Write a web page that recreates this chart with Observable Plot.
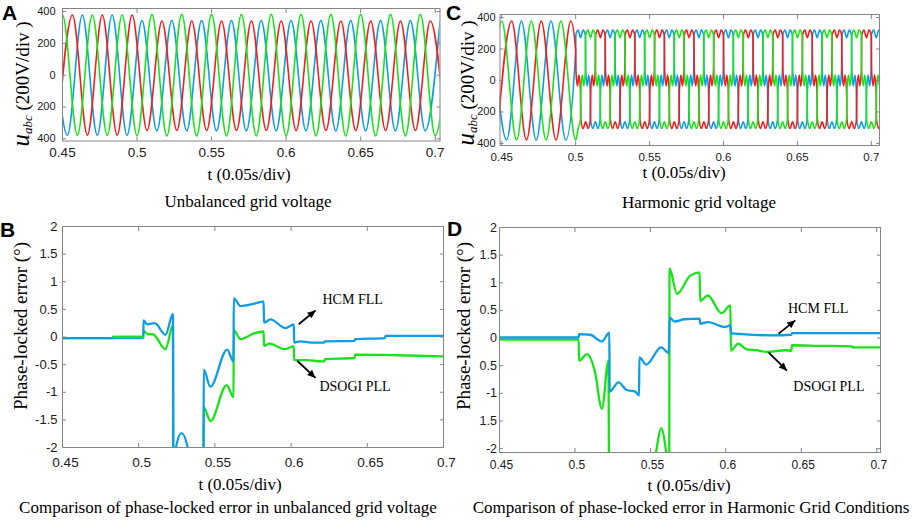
<!DOCTYPE html>
<html><head><meta charset="utf-8">
<script src="https://cdn.jsdelivr.net/npm/d3@7"></script>
<script src="https://cdn.jsdelivr.net/npm/@observablehq/plot@0.6"></script>
<style>
html,body{margin:0;padding:0;background:#fff;}
#fig{position:relative;width:913px;height:524px;overflow:hidden;background:#fff;}
</style></head><body><div id="fig"></div>
<script>
// ---------- tick values & labels ----------
const xTicks = [0.45, 0.5, 0.55, 0.6, 0.65, 0.7];
const xTickLabels = ["0.45", "0.5", "0.55", "0.6", "0.65", "0.7"];
const uTicks = [400, 200, 0, -200, -400];
const uTickLabels = ["400", "200", "0", "200", "400"];
const eTicks = [2, 1.5, 1, 0.5, 0, -0.5, -1, -1.5, -2];
const eTickLabelsB = ["2", "1.5", "1", "0.5", "0", "-0.5", "-1", "-1.5", "-2"];
const eTickLabelsD = ["2", "1.5", "1", "0.5", "0", "0.5", "-1", "1.5", "-2"];

// ---------- Panel A: unbalanced grid voltage (extrema of each phase, [t, V]) ----------
const redA = [[0.4467,-378],[0.4567,378],[0.4667,-378],[0.4767,378],[0.4867,-378],[0.4967,378],
  [0.5067,-348],[0.5167,340],[0.5267,-348],[0.5367,340],[0.5467,-348],[0.5567,340],[0.5667,-348],
  [0.5767,340],[0.5867,-348],[0.5967,340],[0.6067,-348],[0.6167,340],[0.6267,-348],[0.6367,340],
  [0.6467,-348],[0.6567,340],[0.6667,-348],[0.6767,340],[0.6867,-348],[0.6967,340],[0.7067,-348]];
const blueA = [[0.4433,378],[0.4533,-378],[0.4633,378],[0.4733,-378],[0.4833,378],[0.4933,-378],
  [0.5033,343],[0.5133,-350],[0.5233,343],[0.5333,-350],[0.5433,343],[0.5533,-350],[0.5633,343],
  [0.5733,-350],[0.5833,343],[0.5933,-350],[0.6033,343],[0.6133,-350],[0.6233,343],[0.6333,-350],
  [0.6433,343],[0.6533,-350],[0.6633,343],[0.6733,-350],[0.6833,343],[0.6933,-350],[0.7033,343]];
const greenA = [[0.44,-378],[0.45,378],[0.46,-378],[0.47,378],[0.48,-378],[0.49,378],[0.50,-380],
  [0.51,382],[0.52,-382],[0.53,382],[0.54,-382],[0.55,382],[0.56,-382],[0.57,382],[0.58,-382],
  [0.59,382],[0.60,-382],[0.61,382],[0.62,-382],[0.63,382],[0.64,-382],[0.65,382],[0.66,-382],
  [0.67,382],[0.68,-382],[0.69,382],[0.70,-382],[0.71,382]];

// ---------- Panel C: harmonic grid voltage ----------
const redCpre = [[0.4467,-378],[0.4567,378],[0.4667,-378],[0.4767,378],[0.4867,-378],[0.4967,378],[0.5,190]];
const blueCpre = [[0.4433,378],[0.4533,-378],[0.4633,378],[0.4733,-378],[0.4833,378],[0.4933,-378],[0.5,190]];
const greenCpre = [[0.44,-378],[0.45,378],[0.46,-378],[0.47,378],[0.48,-378],[0.49,378],[0.5,-378]];
// one period of the distorted waveform: [offset from the cycle's crest (s), V]
const harmCycle = [[-0.0032,290],[-0.0017,320],[0,272],[0.0017,320],[0.0032,290],
  [0.0035,55],[0.0045,-35],[0.0055,35],[0.0065,-55],
  [0.0068,-250],[0.0083,-305],[0.0100,-262],[0.0117,-305],[0.0132,-250],
  [0.0135,-55],[0.0145,35],[0.0155,-35],[0.0165,55]];
const redCyclesC = [0.4967,0.5167,0.5367,0.5567,0.5767,0.5967,0.6167,0.6367,0.6567,0.6767,0.6967];
const blueCyclesC = [0.5033,0.5233,0.5433,0.5633,0.5833,0.6033,0.6233,0.6433,0.6633,0.6833,0.7033];
const greenCyclesC = [0.49,0.51,0.53,0.55,0.57,0.59,0.61,0.63,0.65,0.67,0.69];

// ---------- Panel B: phase-locked error, unbalanced ([t, deg]) ----------
const hcmB = [[0.45,-0.02],[0.503,-0.02],[0.5032,0.30],[0.5055,0.23],[0.5105,0.25],[0.5176,0.04],
  [0.5225,0.42],[0.5227,-2.3],[0.5241,-2.05],[0.5281,-1.74],[0.5325,-2.05],[0.5345,-2.4],[0.5425,-2.4],
  [0.5427,-0.59],[0.5470,-0.90],[0.5580,-0.23],[0.5622,-0.44],[0.5624,0.70],[0.5668,0.56],[0.5753,0.60],
  [0.5820,0.64],[0.5822,0.26],[0.5865,0.32],[0.5963,0.16],[0.6018,0.23],[0.6020,-0.10],[0.6060,-0.08],
  [0.6130,-0.10],[0.6218,-0.10],[0.6222,-0.08],[0.6415,-0.07],[0.6420,-0.04],[0.6615,-0.02],[0.6620,0.02],[0.70,0.02]];
const dsogiB = [[0.45,-0.02],[0.483,-0.02],[0.4832,0.0],[0.503,0.0],[0.5032,0.11],[0.5060,0.05],[0.5092,0.05],
  [0.5176,-0.22],[0.5225,0.22],[0.5227,-2.3],[0.5425,-2.3],[0.5427,-1.27],[0.5471,-1.52],[0.5577,-0.87],
  [0.5622,-1.09],[0.5624,0.12],[0.5668,-0.04],[0.5753,0.06],[0.5820,0.10],[0.5822,-0.16],[0.5858,-0.12],
  [0.5960,-0.22],[0.6018,-0.17],[0.6020,-0.42],[0.6100,-0.42],[0.6200,-0.44],[0.6218,-0.44],[0.6222,-0.40],
  [0.6415,-0.38],[0.6420,-0.32],[0.6700,-0.33],[0.70,-0.35]];

// ---------- Panel D: phase-locked error, harmonic ----------
const hcmD = [[0.45,0.01],[0.5025,0.01],[0.5027,0.07],[0.5100,0.06],[0.5179,-0.06],[0.5228,0.10],
  [0.5230,-0.97],[0.5288,-0.80],[0.5343,-0.94],[0.5400,-0.97],[0.5425,-1.04],[0.5427,-0.35],[0.5473,-0.48],
  [0.5571,-0.17],[0.5622,-0.27],[0.5627,0.37],[0.5660,0.30],[0.5726,0.34],[0.5826,0.35],[0.5830,0.26],
  [0.5882,0.29],[0.5994,0.20],[0.6030,0.23],[0.6034,0.09],[0.6110,0.07],[0.6300,0.05],[0.6434,0.06],
  [0.6438,0.09],[0.7025,0.09]];
const dsogiD = [[0.45,-0.03],[0.5025,-0.03],[0.5027,-0.41],[0.5080,-0.29],[0.5130,-0.58],[0.5179,-1.28],
  [0.5222,-0.41],[0.5226,-2.3],[0.5520,-2.3],[0.5538,-2.05],[0.5571,-1.63],[0.5604,-2.05],[0.5615,-2.3],
  [0.5625,-2.3],[0.5627,1.26],[0.5676,0.80],[0.5764,1.13],[0.5826,1.19],[0.5830,0.67],[0.5880,0.77],
  [0.5972,0.45],[0.6030,0.59],[0.6034,-0.23],[0.6082,-0.10],[0.6135,-0.20],[0.6200,-0.22],[0.6268,-0.25],
  [0.6400,-0.22],[0.6434,-0.23],[0.6438,-0.13],[0.6620,-0.14],[0.6834,-0.15],[0.6838,-0.17],[0.7025,-0.17]];

// ---------- annotations [x1, y1, x2, y2] and [x, y, text] ----------
const arrowsB = [[0.605,0.23,0.616,0.48],[0.604,-0.43,0.616,-0.74]];
const labelsB = [[0.6206,0.67,"HCM FLL"],[0.6186,-0.89,"DSOGI PLL"]];
const arrowsD = [[0.635,0.08,0.646,0.32],[0.6283,-0.26,0.6405,-0.59]];
const labelsD = [[0.6412,0.53,"HCM FLL"],[0.6447,-0.88,"DSOGI PLL"]];

// ---------- build ----------
const RED = "#f41c1c", GREEN = "#18e318", BLUE = "#0e9de4", FRAME = "#858585", INK = "#1a1a1a";
const fig = document.getElementById("fig");
const X = d => d[0], Y = d => d[1];

function harmonic(pre, cycles) {
  return pre.concat(cycles.flatMap(c => harmCycle.map(([dt, v]) => [c + dt, v])).filter(d => d[0] > 0.5));
}

function arrowHead(color, context) {
  const doc = (context && context.document) || document;
  const ns = "http://www.w3.org/2000/svg";
  const m = doc.createElementNS(ns, "marker");
  m.setAttribute("viewBox", "-10 -5 10 10");
  m.setAttribute("markerWidth", "9");
  m.setAttribute("markerHeight", "8");
  m.setAttribute("markerUnits", "userSpaceOnUse");
  m.setAttribute("orient", "auto");
  m.setAttribute("refX", "0");
  m.setAttribute("refY", "0");
  const p = doc.createElementNS(ns, "path");
  p.setAttribute("d", "M-10,-4.5L0,0L-10,4.5Z");
  p.setAttribute("fill", color);
  p.setAttribute("stroke", "none");
  m.appendChild(p);
  return m;
}

function panel(o) {
  const svg = Plot.plot({
    width: o.width, height: o.height,
    marginTop: o.m[0], marginRight: o.m[1], marginBottom: o.m[2], marginLeft: o.m[3],
    x: {domain: o.xDomain}, y: {domain: o.yDomain},
    style: {position: "absolute", left: o.left + "px", top: o.top + "px", background: "transparent",
      overflow: "visible", color: FRAME, fontFamily: "'Liberation Sans', Arial, sans-serif"},
    marks: [
      ...o.marks,
      Plot.frame({stroke: FRAME}),
      Plot.axisX({anchor: "bottom", ticks: xTicks, tickSize: -4, tickFormat: () => ""}),
      Plot.axisX({anchor: "top", ticks: xTicks, tickSize: -4, tickFormat: () => ""}),
      Plot.axisY({anchor: "left", ticks: o.yTicks, tickSize: -4, tickFormat: () => ""}),
      Plot.axisY({anchor: "right", ticks: o.yTicks, tickSize: -4, tickFormat: () => ""}),
      Plot.text(xTicks, {x: d => d, text: (d, i) => xTickLabels[i], frameAnchor: "bottom", dy: o.xdy, dx: o.xdx || 0,
        lineAnchor: "middle", fontSize: o.xFont, fill: INK}),
      Plot.text(o.yTicks, {y: d => d, text: (d, i) => o.yTickLabels[i], frameAnchor: "left", dx: o.ydx,
        textAnchor: "end", lineAnchor: "middle", fontSize: o.yFont, fill: INK})
    ]
  });
  fig.appendChild(svg);
}

const wave = (data, color) => Plot.line(data, {x: X, y: Y, stroke: color, strokeWidth: 1.6, curve: "monotone-x", clip: true});
const err = (data, color, extra = {}) => Plot.line(data, {x: X, y: Y, stroke: color, strokeWidth: 2.3, curve: "monotone-x", clip: true, ...extra});
const notes = (arrows, labels) => [
  Plot.link(arrows, {x1: d => d[0], y1: d => d[1], x2: d => d[2], y2: d => d[3], stroke: "#000", strokeWidth: 1.8, markerEnd: arrowHead}),
  Plot.text(labels, {x: d => d[0], y: d => d[1], text: d => d[2], textAnchor: "start", lineAnchor: "middle",
    fontSize: 14, fill: "#000", fontFamily: "'Liberation Serif', 'Times New Roman', serif"})
];

// Panel A
panel({left: 0, top: 0, width: 456, height: 165, m: [8, 16.5, 24.5, 62],
  xDomain: [0.45, 0.7032], yDomain: [-414, 419], yTicks: uTicks, yTickLabels: uTickLabels,
  xdy: 11.5, xFont: 13.5, ydx: -7, yFont: 11,
  marks: [wave(blueA, BLUE), wave(redA, RED), wave(greenA, GREEN)]});

// Panel C
panel({left: 456, top: 0, width: 457, height: 165, m: [14, 34, 20, 43.5],
  xDomain: [0.4488, 0.7055], yDomain: [-413, 419], yTicks: uTicks, yTickLabels: uTickLabels,
  xdy: 12, xFont: 11.5, ydx: -4.5, yFont: 11,
  marks: [wave(harmonic(blueCpre, blueCyclesC), BLUE), wave(harmonic(redCpre, redCyclesC), RED),
          wave(harmonic(greenCpre, greenCyclesC), GREEN)]});

// Panel B
panel({left: 0, top: 215, width: 456, height: 250, m: [11, 13, 18, 62],
  xDomain: [0.45, 0.7], yDomain: [-2, 2], yTicks: eTicks, yTickLabels: eTickLabelsB,
  xdy: 14.7, xdx: 3, xFont: 13.5, ydx: -5, yFont: 13,
  marks: [err(dsogiB, GREEN), err(hcmB, BLUE),
          err(dsogiB, GREEN, {filter: d => d[0] >= 0.4832 && d[0] <= 0.503}),
          ...notes(arrowsB, labelsB)]});

// Panel D
panel({left: 456, top: 215, width: 457, height: 250, m: [12, 33, 13, 43],
  xDomain: [0.45, 0.7025], yDomain: [-2.07, 2], yTicks: eTicks, yTickLabels: eTickLabelsD,
  xdy: 13, xdx: 2, xFont: 12, ydx: -2.5, yFont: 12.5,
  marks: [err(dsogiD, GREEN), err(hcmD, BLUE), ...notes(arrowsD, labelsD)]});

// ---------- text overlay ----------
const ov = d3.select(fig).append("svg").attr("width", 913).attr("height", 524)
  .style("position", "absolute").style("left", "0px").style("top", "0px").style("pointer-events", "none");
const serif = "'Liberation Serif', 'Times New Roman', serif";
const sans = "'Liberation Sans', Arial, sans-serif";
function put(x, y, s, size, family, anchor = "middle", weight = "normal") {
  ov.append("text").attr("x", x).attr("y", y).attr("text-anchor", anchor)
    .style("font-family", family).style("font-size", size + "px").style("font-weight", weight)
    .attr("fill", "#000").text(s);
}
put(2, 20, "A", 21, sans, "start", "bold");
put(446, 20, "C", 21, sans, "start", "bold");
put(0, 237, "B", 21, sans, "start", "bold");
put(447, 236, "D", 21, sans, "start", "bold");

put(249, 179.5, "t (0.05s/div)", 17, serif);
put(684, 178, "t (0.05s/div)", 17, serif);
put(240, 489.5, "t (0.05s/div)", 17, serif);
put(689, 491, "t (0.05s/div)", 17, serif);

put(248, 207, "Unbalanced grid voltage", 17, serif);
put(699, 208, "Harmonic grid voltage", 17, serif);
put(228, 513, "Comparison of phase-locked error in unbalanced grid voltage", 17, serif);
put(691, 513, "Comparison of phase-locked error in Harmonic Grid Conditions", 17, serif);

function vlabelPLL(x, y) {
  ov.append("text").attr("transform", `translate(${x},${y}) rotate(-90)`).attr("text-anchor", "middle")
    .style("font-family", serif).style("font-size", "19px").attr("fill", "#000").text("Phase-locked error (°)");
}
vlabelPLL(26.5, 326);
vlabelPLL(470, 326);

function vlabelU(x, y) {
  const t = ov.append("text").attr("transform", `translate(${x},${y}) rotate(-90)`).attr("text-anchor", "middle")
    .style("font-family", serif).attr("fill", "#000");
  t.append("tspan").style("font-style", "italic").style("font-size", "25px").text("u");
  t.append("tspan").style("font-style", "italic").style("font-size", "13px").attr("dy", 3).text("abc");
  t.append("tspan").style("font-size", "19px").attr("dy", -3).text(" (200V/div )");
}
vlabelU(29, 84);
vlabelU(474, 83);
</script></body></html>
